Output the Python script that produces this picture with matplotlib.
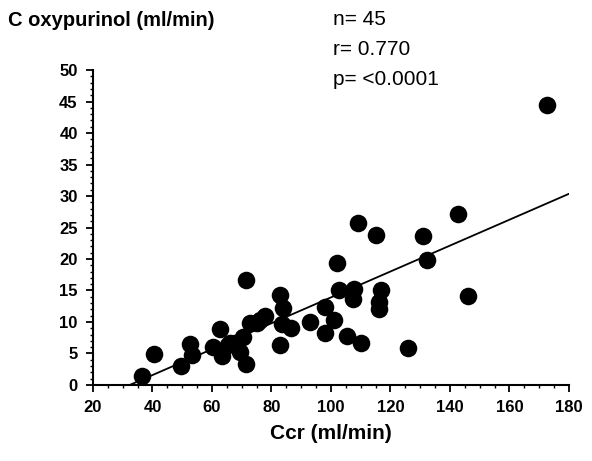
import numpy as np
import matplotlib
matplotlib.use("Agg")
import matplotlib.pyplot as plt
from matplotlib.ticker import MultipleLocator

plt.rcParams['font.family'] = ['Liberation Sans Narrow', 'Liberation Sans', 'DejaVu Sans']

# Ccr (ml/min) vs C oxypurinol (ml/min) (n = 45)
ccr = [36.4, 40.5, 49.5, 52.7, 53.4, 60.3, 62.7, 63.3, 65.5, 66.1,
       67.7, 69.6, 70.5, 71.4, 71.3, 72.8, 75.0, 76.1, 78.0,
       82.9, 82.9, 83.5, 84.0, 86.5, 92.9, 98.0, 98.0, 101.2, 102.0,
       102.6, 105.3, 107.3, 107.8, 109.2, 110.1, 115.1, 116.2, 116.2, 117.0,
       126.0, 131.0, 132.2, 142.8, 146.2, 172.5]
cox = [1.4, 4.9, 3.0, 6.5, 4.7, 6.0, 8.9, 4.6, 6.3, 6.6,
       6.6, 5.3, 7.6, 3.4, 16.6, 9.8, 9.8, 10.3, 11.0,
       14.3, 6.3, 9.6, 12.2, 9.0, 10.0, 12.3, 8.2, 10.3, 19.4,
       15.1, 7.7, 13.7, 15.2, 25.7, 6.6, 23.8, 13.2, 12.0, 15.1,
       5.8, 23.7, 19.8, 27.1, 14.1, 44.4]

# regression line as drawn in the figure
slope, intercept = 0.2056, -6.66
line_x = [32.4, 179.8]

fig = plt.figure(figsize=(5.92, 4.61), dpi=100)
ax = fig.add_axes([0.157, 0.165, 0.804, 0.683])

ax.scatter(ccr, cox, s=160, color='black', zorder=3, linewidths=0, clip_on=False)
lx = np.array(line_x)
ax.plot(lx, slope * lx + intercept, color='black', lw=1.3)

ax.set_xlim(20, 180)
ax.set_ylim(0, 50)
ax.xaxis.set_major_locator(MultipleLocator(20))
ax.xaxis.set_minor_locator(MultipleLocator(5))
ax.yaxis.set_major_locator(MultipleLocator(5))
ax.yaxis.set_minor_locator(MultipleLocator(1))
for s in ['top', 'right']:
    ax.spines[s].set_visible(False)
for s in ['left', 'bottom']:
    ax.spines[s].set_linewidth(1.5)
ax.tick_params(which='major', length=5, width=1.3, labelsize=12, pad=6)
ax.tick_params(which='minor', length=2.5, width=1.0)
for lab in ax.get_xticklabels() + ax.get_yticklabels():
    lab.set_fontweight('bold')

ax.set_xlabel('Ccr (ml/min)', fontsize=15, fontweight='bold', labelpad=6)
fig.text(0.014, 0.955, 'C oxypurinol (ml/min)', fontsize=14.5, fontweight='bold',
         va='center', family=['Liberation Sans', 'DejaVu Sans'])
for i, t in enumerate(['n= 45', 'r= 0.770', 'p= <0.0001']):
    fig.text(0.562, 0.958 - i * 0.065, t, fontsize=15, va='center',
             family=['Liberation Sans', 'DejaVu Sans'])

fig.savefig('out.png', dpi=100)
